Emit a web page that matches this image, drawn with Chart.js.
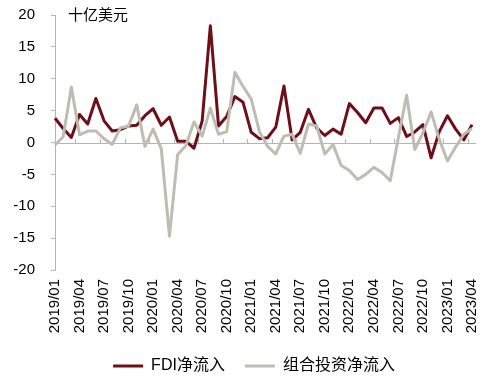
<!DOCTYPE html>
<html>
<head>
<meta charset="utf-8">
<script src="https://cdn.jsdelivr.net/npm/chart.js@4.4.1/dist/chart.umd.min.js"></script>
<style>
  html, body { margin: 0; padding: 0; background: #fff; }
  #wrap { width: 499px; height: 380px; position: relative; }
</style>
</head>
<body>
<div id="wrap"><canvas id="c" width="499" height="380"></canvas></div>
<script>
const categories = [
  '2019/01','2019/02','2019/03','2019/04','2019/05','2019/06','2019/07','2019/08','2019/09','2019/10','2019/11','2019/12',
  '2020/01','2020/02','2020/03','2020/04','2020/05','2020/06','2020/07','2020/08','2020/09','2020/10','2020/11','2020/12',
  '2021/01','2021/02','2021/03','2021/04','2021/05','2021/06','2021/07','2021/08','2021/09','2021/10','2021/11','2021/12',
  '2022/01','2022/02','2022/03','2022/04','2022/05','2022/06','2022/07','2022/08','2022/09','2022/10','2022/11','2022/12',
  '2023/01','2023/02','2023/03','2023/04'
];
const fdiNet = [
  3.8, 2.2, 0.8, 4.4, 2.9, 6.9, 3.4, 1.8, 2.0, 2.6, 2.7, 4.2,
  5.3, 2.7, 4.0, 0.2, 0.2, -0.9, 3.4, 18.3, 2.6, 4.1, 7.2, 6.3,
  1.6, 0.6, 0.75, 2.4, 8.85, 0.4, 1.6, 5.2, 2.3, 1.1, 2.1, 1.3,
  6.1, 4.7, 3.1, 5.4, 5.4, 3.0, 3.9, 0.95, 1.65, 2.8, -2.4, 1.7,
  4.2, 2.1, 0.4, 2.8
];
const portfolioNet = [
  -0.4, 0.9, 8.7, 1.2, 1.8, 1.8, 0.6, -0.3, 2.3, 2.6, 5.9, -0.6,
  2.1, -1.0, -14.7, -1.9, -0.5, 3.2, 1.0, 5.4, 1.3, 1.7, 11.0, 8.8,
  6.8, 1.7, -0.6, -1.8, 1.0, 1.3, -1.7, 2.9, 2.6, -1.8, -0.3, -3.6,
  -4.4, -5.8, -5.0, -3.9, -4.7, -6.0, 0.8, 7.4, -1.1, 1.5, 4.8, 0.5,
  -2.9, -0.7, 1.3, 2.2
];
const seriesNames = ['FDI净流入', '组合投资净流入'];
const yTicks = [-20, -15, -10, -5, 0, 5, 10, 15, 20];
const unitLabel = '十亿美元';

const FONT = "'Liberation Sans', Arial, 'Noto Sans CJK SC', sans-serif";
const AXIS_GRAY = '#B4B4B4';

const decorPlugin = {
  id: 'decor',
  beforeInit(chart) {
    const leg = chart.legend;
    if (leg) {
      const origFit = leg.fit;
      leg.fit = function () { origFit.call(this); this.height -= 4; };
    }
  },
  afterLayout(chart) {
    const leg = chart.legend;
    if (leg) { leg.left += 15; leg.right += 15; }
  },
  beforeDatasetsDraw(chart) {
    const { ctx, scales: { x, y }, chartArea } = chart;
    const y0 = y.getPixelForValue(0);
    ctx.save();
    ctx.strokeStyle = AXIS_GRAY;
    ctx.lineWidth = 1;
    ctx.beginPath();
    ctx.moveTo(chartArea.left, Math.round(y0) + 0.5);
    ctx.lineTo(x.getPixelForValue(categories.length - 0.5), Math.round(y0) + 0.5);
    for (let k = 3; k < categories.length; k += 3) {
      const px = Math.round(x.getPixelForValue(k - 0.5)) + 0.5;
      ctx.moveTo(px, Math.round(y0));
      ctx.lineTo(px, Math.round(y0) - 4);
    }
    ctx.stroke();
    ctx.restore();
  },
  afterDraw(chart) {
    const { ctx, chartArea } = chart;
    ctx.save();
    ctx.fillStyle = '#000';
    ctx.font = "15px " + FONT;
    ctx.textBaseline = 'middle';
    ctx.textAlign = 'left';
    ctx.fillText(unitLabel, chartArea.left + 13, chartArea.top + 1);
    ctx.restore();
  }
};

new Chart(document.getElementById('c'), {
  type: 'line',
  data: {
    labels: categories,
    datasets: [
      {
        label: seriesNames[0],
        data: fdiNet,
        borderColor: '#6E0E16',
        backgroundColor: '#6E0E16',
        borderWidth: 3,
        pointRadius: 0,
        tension: 0,
        borderJoinStyle: 'round',
        order: 1
      },
      {
        label: seriesNames[1],
        data: portfolioNet,
        borderColor: '#BEBDB1',
        backgroundColor: '#BEBDB1',
        borderWidth: 3,
        pointRadius: 0,
        tension: 0,
        borderJoinStyle: 'round',
        order: 0
      }
    ]
  },
  options: {
    responsive: false,
    animation: false,
    devicePixelRatio: 1,
    layout: { padding: { top: 15, right: 21, left: 0, bottom: 0 } },
    plugins: {
      tooltip: { enabled: false },
      legend: {
        position: 'bottom',
        labels: {
          font: { family: FONT, size: 16 },
          color: '#000',
          boxWidth: 30,
          boxHeight: 3,
          padding: 20,
          sort: (a, b) => a.datasetIndex - b.datasetIndex,
          generateLabels(chart) {
            const items = Chart.defaults.plugins.legend.labels.generateLabels(chart);
            items.forEach(it => { it.lineWidth = 0; it.strokeStyle = 'rgba(0,0,0,0)'; });
            return items;
          }
        }
      }
    },
    scales: {
      x: {
        type: 'category',
        offset: false,
        grid: { display: false, drawTicks: false },
        border: { display: false },
        ticks: {
          autoSkip: false,
          maxRotation: 90,
          minRotation: 90,
          padding: 9,
          color: '#000',
          font: { family: FONT, size: 15 },
          callback: function (val, idx) { return idx % 3 === 0 ? categories[idx] : null; }
        },
        afterFit(s) { s.height = 68; }
      },
      y: {
        min: -20,
        max: 20,
        afterBuildTicks(s) { s.ticks = yTicks.map(v => ({ value: v })); },
        grid: {
          drawOnChartArea: false,
          drawTicks: true,
          tickLength: 4,
          tickColor: AXIS_GRAY,
          color: AXIS_GRAY
        },
        border: { display: true, color: AXIS_GRAY, width: 1 },
        ticks: {
          padding: 16,
          color: '#000',
          font: { family: FONT, size: 15 }
        },
        afterFit(s) { s.width = 55; s.paddingTop = 0; s.paddingBottom = 0; }
      }
    }
  },
  plugins: [decorPlugin]
});
</script>
</body>
</html>
